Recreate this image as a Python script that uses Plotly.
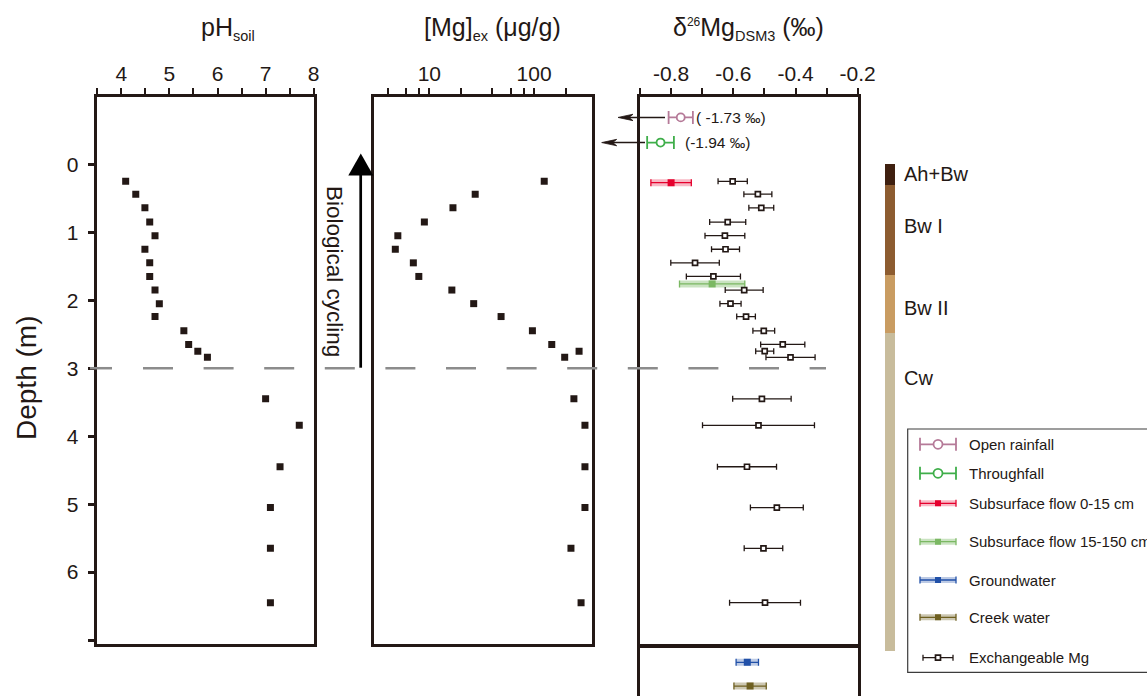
import math
import plotly.graph_objects as go

# ---------------- data ----------------
depth_m = [0.25, 0.44, 0.64, 0.85, 1.05, 1.25, 1.45, 1.65, 1.85, 2.05, 2.24,
           2.45, 2.65, 2.75, 2.84, 3.45, 3.84, 4.45, 5.05, 5.65, 6.45]
ph_soil = [4.09, 4.30, 4.49, 4.59, 4.70, 4.49, 4.59, 4.59, 4.70, 4.79, 4.70,
           5.30, 5.40, 5.59, 5.79, 7.00, 7.70, 7.30, 7.10, 7.10, 7.10]
mg_ex = [125, 27.4, 16.8, 8.96, 5.0, 4.73, 7.03, 7.93, 16.4, 26.5, 48.4,
         96.4, 147.5, 269, 196, 240, 306, 306, 306, 225, 281]
d26_exch = [-0.602, -0.521, -0.510, -0.618, -0.627, -0.625, -0.723, -0.664, -0.565, -0.609, -0.559,
            -0.502, -0.441, -0.499, -0.416, -0.508, -0.519, -0.556, -0.460, -0.503, -0.498]
d26_exch_err = [0.047, 0.045, 0.040, 0.058, 0.064, 0.045, 0.078, 0.087, 0.061, 0.034, 0.030,
                0.035, 0.071, 0.029, 0.079, 0.094, 0.180, 0.095, 0.085, 0.062, 0.114]

# water samples (value, 2sd, plotted depth)
sub015 = dict(d=-0.800, e=0.065, z=0.27)
sub15150 = dict(d=-0.668, e=0.105, z=1.76)
rain_plot = dict(d=-0.769, e=0.039, z=-0.69, true="( -1.73 ‰)")
thru_plot = dict(d=-0.834, e=0.043, z=-0.32, true="(-1.94 ‰)")
ground = dict(d=-0.555, e=0.036, row=1)
creek = dict(d=-0.546, e=0.052, row=2)

horizon_names = ["Ah+Bw", "Bw I", "Bw II", "Cw"]
horizon_top = [0.0, 0.305, 1.63, 2.48]
horizon_bot = [0.305, 1.63, 2.48, 7.17]
horizon_label_depth = [0.15, 0.91, 2.11, 3.15]
horizon_colors = ["#3f2010", "#8d5c30", "#c99c62", "#c8bc9c"]

ph_ticks = [4, 5, 6, 7, 8]
ph_minor = [3.5, 4.5, 5.5, 6.5, 7.5]
mg_ticks = [10, 100]
mg_minor = [4, 6, 8, 20, 40, 60, 80, 200]
d_ticks = [-0.8, -0.6, -0.4, -0.2]
d_ticktext = ["-0.8", "-0.6", "-0.4", "-0.2"]
d_minor = [-0.9, -0.7, -0.5, -0.3]
depth_ticks = [0, 1, 2, 3, 4, 5, 6]
depth_minor = [7]

legend_labels = ["Open rainfall", "Throughfall", "Subsurface flow 0-15 cm",
                 "Subsurface flow 15-150 cm", "Groundwater", "Creek water", "Exchangeable Mg"]
legend_rows = [15.3, 44.3, 74.3, 112.7, 151, 188.3, 228.7]

# ---------------- style ----------------
W, H = 1147, 696
FONT = "Liberation Sans, Arial, sans-serif"
INK = "#231815"
C_RAIN = "#b57a98"
C_THRU = "#3fae4a"
C_SUB1 = "#e5002d"
C_SUB1_BAND = "rgba(229,0,45,0.28)"
C_SUB2 = "#7bb863"
C_SUB2_BAND = "rgba(123,184,99,0.40)"
C_GW = "#2150a8"
C_GW_BAND = "rgba(33,80,168,0.30)"
C_CK = "#6e5f20"
C_CK_BAND = "rgba(110,95,32,0.35)"

Y_TOP_PX, Y_ZERO_PX, PX_PER_M = 97, 164.3, 67.9


def fx(p):
    return p / W


def fy(p):
    return 1 - p / H


def depth_px(z):
    return Y_ZERO_PX + z * PX_PER_M


y_dom = [fy(643.5), fy(Y_TOP_PX)]
y_range = [7.05, -0.99]

fig = go.Figure()

fig.add_trace(go.Scatter(x=ph_soil, y=depth_m, mode="markers", xaxis="x", yaxis="y",
                         marker=dict(symbol="square", size=7, color=INK), showlegend=False))
fig.add_trace(go.Scatter(x=mg_ex, y=depth_m, mode="markers", xaxis="x2", yaxis="y2",
                         marker=dict(symbol="square", size=7, color=INK), showlegend=False))


def band(d, e, z, color, xa, ya, width=7):
    return go.Scatter(x=[d - e, d + e], y=[z, z], mode="lines", xaxis=xa, yaxis=ya,
                      line=dict(color=color, width=width), hoverinfo="skip", showlegend=False)


def point(d, e, z, color, xa, ya, symbol, size, fill, lw, capw, thick):
    return go.Scatter(x=[d], y=[z], mode="markers", xaxis=xa, yaxis=ya,
                      marker=dict(symbol=symbol, size=size, color=fill,
                                  line=dict(color=color, width=lw)),
                      error_x=dict(type="data", array=[e], color=color, width=capw, thickness=thick),
                      showlegend=False)


fig.add_trace(band(sub015["d"], sub015["e"], sub015["z"], C_SUB1_BAND, "x3", "y3"))
fig.add_trace(point(sub015["d"], sub015["e"], sub015["z"], C_SUB1, "x3", "y3", "square", 7, C_SUB1, 0, 3.5, 1.3))
fig.add_trace(band(sub15150["d"], sub15150["e"], sub15150["z"], C_SUB2_BAND, "x3", "y3"))
fig.add_trace(point(sub15150["d"], sub15150["e"], sub15150["z"], C_SUB2, "x3", "y3", "square", 7, C_SUB2, 0, 3.5, 1.3))
fig.add_trace(point(rain_plot["d"], rain_plot["e"], rain_plot["z"], C_RAIN, "x3", "y3", "circle", 8, "white", 1.8, 6.5, 1.8))
fig.add_trace(point(thru_plot["d"], thru_plot["e"], thru_plot["z"], C_THRU, "x3", "y3", "circle", 8, "white", 1.8, 6.5, 1.8))
fig.add_trace(go.Scatter(x=d26_exch, y=depth_m, mode="markers", xaxis="x3", yaxis="y3",
                         marker=dict(symbol="square", size=5, color="white", line=dict(color=INK, width=1.7)),
                         error_x=dict(type="data", array=d26_exch_err, color=INK, width=3, thickness=1.3),
                         showlegend=False))

fig.add_trace(band(ground["d"], ground["e"], ground["row"], C_GW_BAND, "x4", "y4"))
fig.add_trace(point(ground["d"], ground["e"], ground["row"], C_GW, "x4", "y4", "square", 7, C_GW, 0, 3.5, 1.3))
fig.add_trace(band(creek["d"], creek["e"], creek["row"], C_CK_BAND, "x4", "y4"))
fig.add_trace(point(creek["d"], creek["e"], creek["row"], C_CK, "x4", "y4", "square", 7, C_CK, 0, 3.5, 1.3))

fig.add_trace(go.Bar(x=[0] * len(horizon_top), y=[b - t for t, b in zip(horizon_top, horizon_bot)],
                     base=horizon_top, width=1, xaxis="x5", yaxis="y5",
                     marker=dict(color=horizon_colors, line=dict(width=0)), showlegend=False))

# legend samples
lx, lh = 30.3, 18
leg_specs = [
    (C_RAIN, None, "circle", 9, "white", 1.8, 6.5, 1.8),
    (C_THRU, None, "circle", 9, "white", 1.8, 6.5, 1.8),
    (C_SUB1, C_SUB1_BAND, "square", 6, C_SUB1, 0, 3.5, 1.3),
    (C_SUB2, C_SUB2_BAND, "square", 6, C_SUB2, 0, 3.5, 1.3),
    (C_GW, C_GW_BAND, "square", 6, C_GW, 0, 3.5, 1.3),
    (C_CK, C_CK_BAND, "square", 6, C_CK, 0, 3.5, 1.3),
]
for row, spec in zip(legend_rows[:6], leg_specs):
    col, bcol, sym, sz, fill, lw, capw, th = spec
    if bcol:
        fig.add_trace(band(lx, lh, row, bcol, "x6", "y6", width=6))
    fig.add_trace(point(lx, lh, row, col, "x6", "y6", sym, sz, fill, lw, capw, th))
fig.add_trace(point(lx, 15, legend_rows[6], INK, "x6", "y6", "square", 5, "white", 1.7, 3, 1.3))

# ---------------- axes ----------------
axis_line = dict(showline=True, linewidth=2.5, linecolor=INK, mirror=True,
                 showgrid=False, zeroline=False, automargin=False)
tick_style = dict(ticks="outside", ticklen=6, tickwidth=2, tickcolor=INK,
                  tickfont=dict(size=21, color=INK, family=FONT))


def minor(vals, ln=6, wd=2):
    return dict(tickmode="array", tickvals=vals, ticks="outside", ticklen=ln, tickwidth=wd,
                tickcolor=INK, showgrid=False)


hidden = dict(visible=False, showgrid=False, zeroline=False, automargin=False)

fig.update_layout(
    width=W, height=H, margin=dict(l=0, r=0, t=0, b=0, pad=0, autoexpand=False), autosize=False,
    paper_bgcolor="white", plot_bgcolor="white",
    font=dict(family=FONT, color=INK), showlegend=False,
    xaxis=dict(domain=[fx(97.3), fx(313.7)], range=[3.5, 8], side="top", anchor="y",
               tickmode="array", tickvals=ph_ticks, minor=minor(ph_minor),
               ticklabelstandoff=-1, **axis_line, **tick_style),
    yaxis=dict(domain=y_dom, range=y_range, anchor="x", tickmode="array",
               tickvals=depth_ticks, minor=minor(depth_minor, 7, 2.5), ticklabelstandoff=5,
               **axis_line, **{**tick_style, "ticklen": 7, "tickwidth": 2.5}),
    xaxis2=dict(domain=[fx(374), fx(591.7)], type="log", range=[math.log10(2.96), math.log10(355)],
                side="top", anchor="y2", tickmode="array", tickvals=mg_ticks, ticktext=["10", "100"],
                minor=minor(mg_minor), ticklabelstandoff=-1, **axis_line, **tick_style),
    yaxis2=dict(domain=y_dom, range=y_range, anchor="x2", showticklabels=False, ticks="", **axis_line),
    xaxis3=dict(domain=[fx(640), fx(857.7)], range=[-0.9, -0.2], side="top", anchor="y3",
                tickmode="array", tickvals=d_ticks, ticktext=d_ticktext, minor=minor(d_minor),
                ticklabelstandoff=-1, **axis_line, **tick_style),
    yaxis3=dict(domain=y_dom, range=y_range, anchor="x3", showticklabels=False, ticks="", **axis_line),
    xaxis4=dict(domain=[fx(640), fx(857.7)], range=[-0.9, -0.2], side="top", anchor="y4",
                showticklabels=False, ticks="", showline=True, linewidth=2.5, linecolor=INK,
                mirror=False, showgrid=False, zeroline=False),
    yaxis4=dict(domain=[0, fy(648.3)], range=[2.42, 0.409], anchor="x4", showticklabels=False,
                ticks="", **axis_line),
    xaxis5=dict(domain=[fx(884.7), fx(895)], range=[-0.5, 0.5], anchor="y5", **hidden),
    yaxis5=dict(domain=[fy(651), fy(Y_TOP_PX)], range=[7.168, -0.99], anchor="x5", **hidden),
    xaxis6=dict(domain=[fx(907.7), 1], range=[0, 239.3], anchor="y6", **hidden),
    yaxis6=dict(domain=[fy(672.3), fy(429)], range=[243.3, 0], anchor="x6", **hidden),
    bargap=0,
)


def arrow_shapes(head_px, tail_px, z):
    yp = depth_px(z)
    return [
        dict(type="line", xref="paper", yref="paper", x0=fx(head_px + 10), x1=fx(tail_px),
             y0=fy(yp), y1=fy(yp), line=dict(color=INK, width=1.5)),
        dict(type="path", xref="paper", yref="paper",
             path=(f"M {fx(head_px)} {fy(yp)} L {fx(head_px + 15)} {fy(yp - 3.2)} "
                   f"L {fx(head_px + 11)} {fy(yp)} L {fx(head_px + 15)} {fy(yp + 3.2)} Z"),
             fillcolor=INK, line=dict(width=0.8, color=INK)),
    ]


shapes = [
    dict(type="line", xref="paper", yref="y", x0=fx(90), x1=fx(112), y0=3, y1=3,
         line=dict(color="#8c8c8c", width=2.5)),
    dict(type="line", xref="paper", yref="y", x0=fx(143), x1=fx(826), y0=3, y1=3,
         line=dict(color="#8c8c8c", width=2.5, dash="30px,30.6px")),
    dict(type="line", xref="paper", yref="paper", x0=fx(360.7), x1=fx(360.7), y0=fy(367.7), y1=fy(174),
         line=dict(color="black", width=2.7)),
    dict(type="path", xref="paper", yref="paper",
         path=f"M {fx(348.3)} {fy(175.5)} L {fx(360.8)} {fy(153.5)} L {fx(373.3)} {fy(175.5)} Z",
         fillcolor="black", line=dict(width=0)),
    dict(type="rect", xref="paper", yref="paper", x0=fx(907.7), x1=1.05, y0=fy(672.3), y1=fy(429),
         line=dict(color="#3c3c3c", width=1.2), fillcolor="rgba(0,0,0,0)"),
]
shapes += arrow_shapes(618, 665, rain_plot["z"])
shapes += arrow_shapes(601.7, 645, thru_plot["z"])
fig.update_layout(shapes=shapes)

SUB = "<sub><span style='font-size:14.5px'>{}</span></sub>"
SUP = "<sup><span style='font-size:12px'>{}</span></sup>"
ann = [
    dict(text="pH" + SUB.format("soil"), xref="paper", yref="paper", x=fx(199), y=fy(29),
         xanchor="left", yanchor="middle", showarrow=False, font=dict(size=25)),
    dict(text="[Mg]" + SUB.format("ex") + " (μg/g)", xref="paper", yref="paper", x=fx(422), y=fy(29),
         xanchor="left", yanchor="middle", showarrow=False, font=dict(size=25)),
    dict(text="δ" + SUP.format("26") + "Mg" + SUB.format("DSM3") + " (‰)", xref="paper", yref="paper",
         x=fx(671), y=fy(29), xanchor="left", yanchor="middle", showarrow=False, font=dict(size=25)),
    dict(text="Depth (m)", xref="paper", yref="paper", x=fx(26), y=fy(378), textangle=-90,
         xanchor="center", yanchor="middle", showarrow=False, font=dict(size=28)),
    dict(text="Biological cycling", xref="paper", yref="paper", x=fx(335), y=fy(271), textangle=90,
         xanchor="center", yanchor="middle", showarrow=False, font=dict(size=22.5)),
    dict(text=rain_plot["true"], xref="paper", yref="y", x=fx(694), y=rain_plot["z"],
         xanchor="left", yanchor="middle", showarrow=False, font=dict(size=15.5)),
    dict(text=thru_plot["true"], xref="paper", yref="y", x=fx(683), y=thru_plot["z"],
         xanchor="left", yanchor="middle", showarrow=False, font=dict(size=15.5)),
]
for name, z in zip(horizon_names, horizon_label_depth):
    ann.append(dict(text=name, xref="paper", yref="y5", x=fx(902), y=z, xanchor="left",
                    yanchor="middle", showarrow=False, font=dict(size=20)))
for name, r in zip(legend_labels, legend_rows):
    ann.append(dict(text=name, xref="x6", yref="y6", x=59.6, y=r, xanchor="left",
                    yanchor="middle", showarrow=False, font=dict(size=15)))
fig.update_layout(annotations=ann)

fig.write_html("out.html", config={"displayModeBar": False},
               post_script="document.body.style.margin='0';document.body.style.overflow='hidden';")
